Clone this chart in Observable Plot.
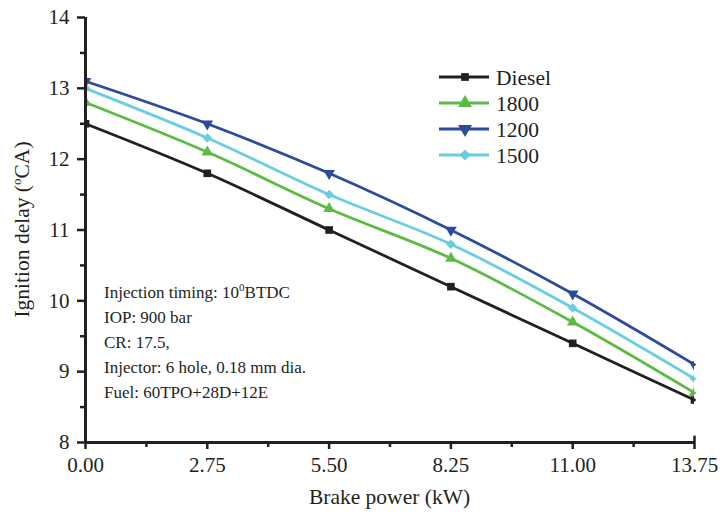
<!DOCTYPE html>
<html>
<head>
<meta charset="utf-8">
<script src="https://cdn.jsdelivr.net/npm/d3@7"></script>
<script src="https://cdn.jsdelivr.net/npm/@observablehq/plot@0.6"></script>
<style>
  html, body { margin: 0; padding: 0; background: #fff; }
  #chart { width: 721px; height: 514px; }
  #chart svg text { font-family: "Liberation Serif", "Times New Roman", serif; }
</style>
</head>
<body>
<div id="chart"></div>
<script>
// ---- data ----
const brakePower = [0, 2.75, 5.5, 8.25, 11, 13.75];
const seriesNames = ["Diesel", "1800", "1200", "1500"];
const diesel = [12.5, 11.8, 11.0, 10.2, 9.4, 8.6];
const s1800  = [12.8, 12.1, 11.3, 10.6, 9.7, 8.7];
const s1200  = [13.1, 12.5, 11.8, 11.0, 10.1, 9.1];
const s1500  = [13.0, 12.3, 11.5, 10.8, 9.9, 8.9];
const xTicks = [0, 2.75, 5.5, 8.25, 11, 13.75];
const yTicks = [8, 9, 10, 11, 12, 13, 14];
const notes = ["Injection timing: 10|0|BTDC", "IOP: 900 bar", "CR: 17.5,", "Injector: 6 hole, 0.18 mm dia.", "Fuel: 60TPO+28D+12E"];

// ---- styling ----
const colors = {"Diesel": "#231f20", "1800": "#5dbb44", "1200": "#2c4b9c", "1500": "#6acde0"};
const symbols = {"Diesel": "square", "1800": "triangle", "1200": "triangle", "1500": "diamond2"};
const rotations = {"Diesel": 0, "1800": 0, "1200": 180, "1500": 0};
const font = "Liberation Serif, Times New Roman, serif";

const valuesBySeries = {"Diesel": diesel, "1800": s1800, "1200": s1200, "1500": s1500};
const rows = seriesNames.flatMap(s => brakePower.map((x, i) => ({series: s, x, y: valuesBySeries[s][i]})));

const W = 721, H = 514;
const mL = 85, mR = 27, mT = 17, mB = 72;

const minorX = xTicks.slice(0, -1).map((d, i) => (d + xTicks[i + 1]) / 2);
const minorY = yTicks.slice(0, -1).map(d => d + 0.5);

const plot = Plot.plot({
  width: W, height: H,
  marginLeft: mL, marginRight: mR, marginTop: mT, marginBottom: mB,
  style: {fontFamily: font, background: "#fff", color: "#231f20"},
  x: {type: "linear", domain: [0, 13.75]},
  y: {type: "linear", domain: [8, 14]},
  marks: [
    Plot.axisX({ticks: xTicks, tickFormat: d => d.toFixed(2), tickSize: 7, tickPadding: 8, fontSize: 21, strokeWidth: 2.5, label: null}),
    Plot.axisX({ticks: minorX, tickFormat: () => "", tickSize: 5, strokeWidth: 2.5, label: null}),
    Plot.axisY({ticks: yTicks, tickFormat: d => String(d), tickSize: 8, tickPadding: 8, fontSize: 21, strokeWidth: 2.5, label: null}),
    Plot.axisY({ticks: minorY, tickFormat: () => "", tickSize: 5, strokeWidth: 2.5, label: null}),
    Plot.line(rows, {x: "x", y: "y", z: "series", stroke: d => colors[d.series], strokeWidth: 2.8, curve: "catmull-rom"}),
    Plot.dot(rows, {x: "x", y: "y", symbol: d => symbols[d.series], rotate: d => rotations[d.series], fill: d => colors[d.series], stroke: "none", r: 4.3, clip: true}),
    Plot.ruleY([8], {stroke: "#231f20", strokeWidth: 3}),
    Plot.ruleX([0], {stroke: "#231f20", strokeWidth: 3}),
    Plot.ruleX([13.75], {y1: 8, y2: 8.09, stroke: "#231f20", strokeWidth: 2.5})
  ]
});
document.getElementById("chart").appendChild(plot);

const svg = d3.select(plot);

// axis titles
svg.append("text")
  .attr("x", (mL + W - mR) / 2).attr("y", 504)
  .attr("text-anchor", "middle").attr("font-size", 21.5).attr("fill", "#231f20")
  .text("Brake power (kW)");

const yl = svg.append("text")
  .attr("transform", `translate(29,${(mT + H - mB) / 2}) rotate(-90)`)
  .attr("text-anchor", "middle").attr("font-size", 21.5).attr("fill", "#231f20");
yl.append("tspan").text("Ignition delay (");
yl.append("tspan").attr("font-size", 13).attr("dy", -8).text("o");
yl.append("tspan").attr("dy", 8).text("CA)");

// annotation block
notes.forEach((line, i) => {
  const t = svg.append("text")
    .attr("x", 104).attr("y", 298 + i * 25)
    .attr("text-anchor", "start")
    .attr("font-size", 17).attr("fill", "#231f20");
  const parts = line.split("|");
  if (parts.length === 3) {
    t.append("tspan").text(parts[0]);
    t.append("tspan").attr("font-size", 11).attr("dy", -7).text(parts[1]);
    t.append("tspan").attr("dy", 7).text(parts[2]);
  } else {
    t.text(line);
  }
});

// legend
seriesNames.forEach((s, i) => {
  const cy = 77 + i * 26;
  const g = svg.append("g");
  g.append("line").attr("x1", 439).attr("x2", 489).attr("y1", cy).attr("y2", cy)
    .attr("stroke", colors[s]).attr("stroke-width", 2.8);
  const shape = symbols[s] === "triangle" ? d3.symbolTriangle : d3.symbolSquare;
  const size = symbols[s] === "square" ? 60 : symbols[s] === "triangle" ? 85 : 60;
  const rot = symbols[s] === "diamond2" ? 45 : rotations[s];
  g.append("path")
    .attr("d", d3.symbol(shape, size)())
    .attr("transform", `translate(465,${cy}) rotate(${rot})`)
    .attr("fill", colors[s]);
  g.append("text").attr("x", 496).attr("y", cy).attr("dy", "0.35em")
    .attr("text-anchor", "start")
    .attr("font-size", 21.5).attr("fill", "#231f20").text(s);
});
</script>
</body>
</html>
